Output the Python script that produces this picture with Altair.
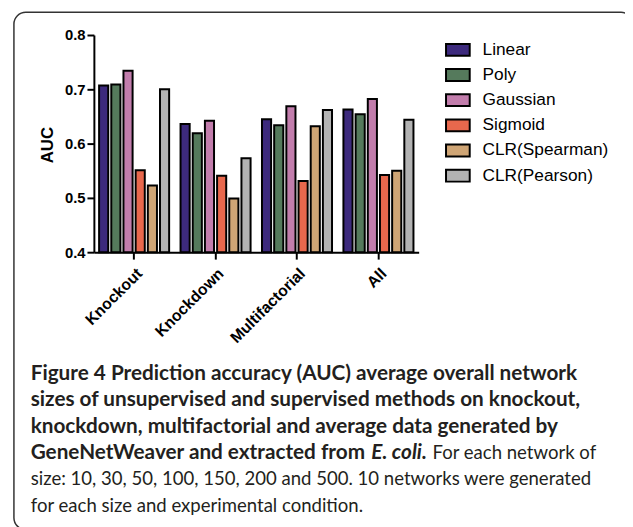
import altair as alt
import pandas as pd

conditions = ["Knockout", "Knockdown", "Multifactorial", "All"]
methods = ["Linear", "Poly", "Gaussian", "Sigmoid", "CLR(Spearman)", "CLR(Pearson)"]
colors = ["#3d2a7d", "#557a5c", "#c27dac", "#e8684d", "#cfa575", "#b3b3b3"]

auc_linear = [0.707, 0.636, 0.645, 0.663]
auc_poly = [0.709, 0.619, 0.634, 0.654]
auc_gaussian = [0.734, 0.642, 0.669, 0.682]
auc_sigmoid = [0.551, 0.541, 0.531, 0.542]
auc_clr_spearman = [0.523, 0.499, 0.632, 0.550]
auc_clr_pearson = [0.700, 0.573, 0.662, 0.644]

y_ticks = [0.4, 0.5, 0.6, 0.7, 0.8]

caption_bold_lines = [
    "Figure 4 Prediction accuracy (AUC) average overall network",
    "sizes of unsupervised and supervised methods on knockout,",
    "knockdown, multifactorial and average data generated by",
]
caption_line4 = ["GeneNetWeaver and extracted from", "E. coli.", "For each network of"]
caption_regular_lines = [
    "size: 10, 30, 50, 100, 150, 200 and 500. 10 networks were generated",
    "for each size and experimental condition.",
]

series = [auc_linear, auc_poly, auc_gaussian, auc_sigmoid, auc_clr_spearman, auc_clr_pearson]
rows = []
for m, vals in zip(methods, series):
    for c, v in zip(conditions, vals):
        rows.append({"condition": c, "method": m, "auc": v, "base": 0.4})
df = pd.DataFrame(rows)

FONT = "Liberation Sans"
CAP_FONT = "Lato"
CAP_BOLD = 21
CAP_REG = 18.8
CAP_COLOR = "#231f20"

bars = alt.Chart(df).mark_bar(stroke="black", strokeWidth=2).encode(
    x=alt.X("condition:N", sort=conditions,
            scale=alt.Scale(paddingInner=0.14, paddingOuter=0.064),
            axis=alt.Axis(title=None, labelAngle=-45, labelFont=FONT, labelFontSize=16,
                          labelFontWeight="bold", labelColor="black", labelPadding=6,
                          tickSize=7, tickWidth=2, tickColor="black",
                          domainWidth=2, domainColor="black")),
    xOffset=alt.XOffset("method:N", sort=methods,
                        scale=alt.Scale(paddingInner=0.25, paddingOuter=0)),
    y=alt.Y("auc:Q", scale=alt.Scale(domain=[0.4, 0.8], zero=False, nice=False),
            axis=alt.Axis(title="AUC", values=y_ticks, format=".1f", grid=False,
                          labelFont=FONT, labelFontSize=15, labelFontWeight="bold",
                          labelColor="black", labelPadding=2,
                          tickSize=7, tickWidth=2, tickColor="black",
                          domainWidth=2, domainColor="black",
                          titleFont=FONT, titleFontSize=17, titleFontWeight="bold",
                          titleColor="black", titleAngle=-90, titleX=-47, titleY=111,
                          titleAlign="center", titleBaseline="middle")),
    y2="base:Q",
    color=alt.Color("method:N", sort=methods,
                    scale=alt.Scale(domain=methods, range=colors),
                    legend=alt.Legend(orient="none", legendX=355.7, legendY=2, title=None,
                                      symbolType="M-1,-0.5H1V0.5H-1Z", symbolSize=576,
                                      symbolStrokeColor="black", symbolStrokeWidth=2,
                                      symbolOpacity=1,
                                      labelFont=FONT, labelFontSize=17.5, labelColor="black",
                                      labelOffset=12, rowPadding=2.5, padding=0)),
)

one = pd.DataFrame({"k": [0]})

border = alt.Chart(one).mark_rect(fill=None, stroke="#333333", strokeWidth=1.5,
                                  cornerRadius=12).encode(
    x=alt.value(-81), x2=alt.value(546), y=alt.value(-23), y2=alt.value(501))

layers = [border, bars]

LEFT = -64
BASE0 = 349.3  # first caption baseline relative to plot top
STEP = 26.7


def txt(s, x, y, weight="normal", style="normal", size=CAP_REG):
    return alt.Chart(pd.DataFrame({"t": [s]})).mark_text(
        align="left", baseline="alphabetic", font=CAP_FONT, fontSize=size,
        fontWeight=weight, fontStyle=style, color=CAP_COLOR).encode(
        text="t:N", x=alt.value(x), y=alt.value(y))


for i, line in enumerate(caption_bold_lines):
    layers.append(txt(line, LEFT, BASE0 + i * STEP, "bold", size=CAP_BOLD))
layers.append(txt(caption_line4[0], LEFT, BASE0 + 3 * STEP, "bold", size=CAP_BOLD))
layers.append(txt(caption_line4[1], 376 - 95, BASE0 + 3 * STEP, "bold", "italic", size=CAP_BOLD))
layers.append(txt(caption_line4[2], 438 - 95, BASE0 + 3 * STEP, "normal"))
for i, line in enumerate(caption_regular_lines):
    layers.append(txt(line, LEFT, BASE0 + (4 + i) * STEP, "normal"))

chart = alt.layer(*layers).properties(
    width=329, height=220,
    autosize=alt.AutoSizeParams(type="none"),
    padding={"left": 87, "top": 24, "right": 209, "bottom": 275},
).configure_view(stroke=None)

chart.save("out.html", embed_options={"renderer": "svg", "actions": False})
